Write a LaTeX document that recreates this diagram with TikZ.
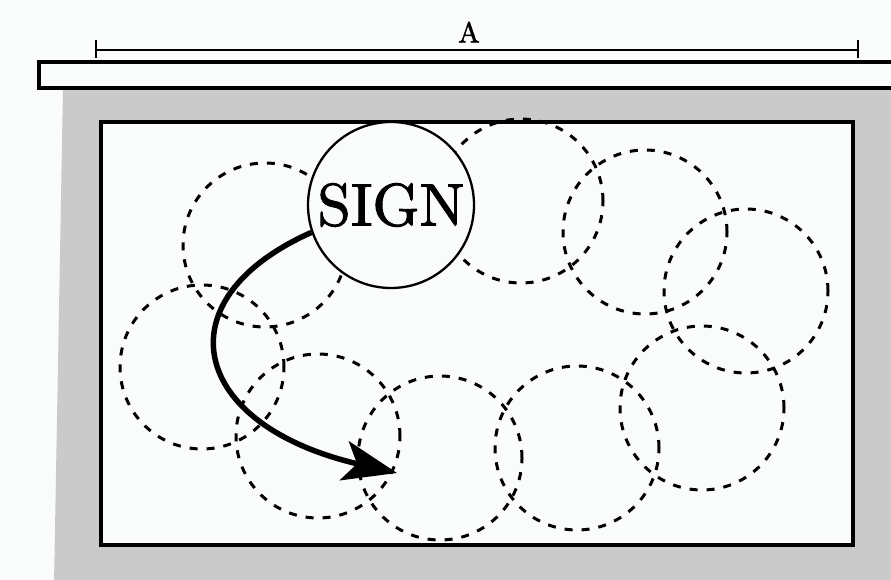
\documentclass[tikz,border=0pt]{standalone}
\usepackage{fontspec}
\newfontfamily\heavyfont{lmroman10-regular.otf}[FakeBold=1.6]
\usetikzlibrary{arrows.meta}
\definecolor{bgwhite}{RGB}{250,252,252}
\definecolor{wallgray}{RGB}{202,202,202}
\begin{document}
\begin{tikzpicture}[x=1pt,y=-1pt,
  dcirc/.style={circle,draw,dash pattern=on 8pt off 9pt,line width=3pt,minimum size=164pt,inner sep=0pt},
  signcirc/.style={circle,draw,fill=bgwhite,line width=2.3pt,minimum size=166pt,inner sep=0pt,font=\heavyfont\fontsize{60}{60}\selectfont},
  frame/.style={draw,line width=3.2pt},
  dimline/.style={line width=2.6pt}]
\useasboundingbox (0,0) rectangle (891,580);
\clip (0,0) rectangle (891,580);
\fill[bgwhite] (0,0) rectangle (891,580);
% wall
\fill[wallgray] (63,88) -- (895,88) -- (895,585) -- (54,585) -- cycle;
% top bar
\draw[frame,fill=bgwhite] (39,62) rectangle (905,88);
% dimension
\coordinate (dl) at (96,50);
\coordinate (dr) at (858,50);
\draw[dimline] (dl) -- (dr);
\draw[dimline] ([yshift=-8pt]dl) -- ([yshift=10pt]dl);
\draw[dimline] ([yshift=-8pt]dr) -- ([yshift=10pt]dr);
\node[font=\heavyfont\fontsize{29}{29}\selectfont] (lblA) at (469,32) {A};
% window / board
\draw[frame,fill=bgwhite] (101,122) rectangle (853,545);
% dashed circles
\node[dcirc] (c1) at (265,245) {};
\node[dcirc] (c2) at (202,367) {};
\node[dcirc] (c3) at (318,436) {};
\node[dcirc] (c4) at (440,458) {};
\node[dcirc] (c5) at (577,448) {};
\node[dcirc] (c6) at (702,408) {};
\node[dcirc] (c7) at (746,291) {};
\node[dcirc] (c8) at (645,232) {};
\node[dcirc] (c9) at (521,201) {};
% sign
\node[signcirc] (sign) at (391,205) {SIGN};
% arrow
\coordinate (tip) at (397,473);
\draw[line width=5.5pt,-{Stealth[length=54pt,width=40pt,inset=13pt]}] (sign.199) .. controls (160,300) and (190,425) .. (tip);
\end{tikzpicture}
\end{document}
